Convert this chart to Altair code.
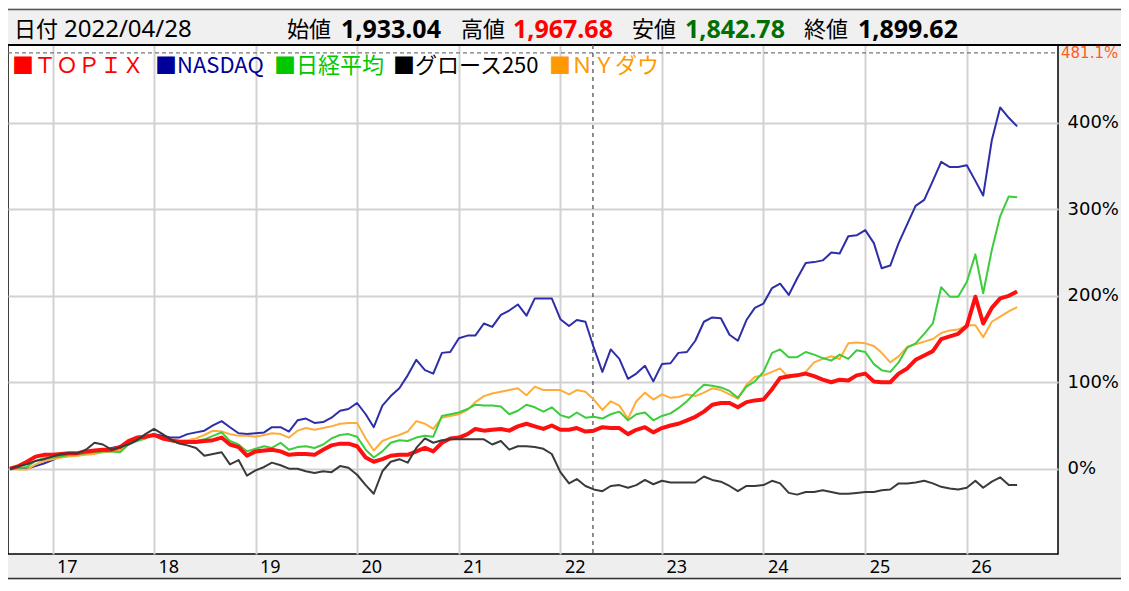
import altair as alt
import pandas as pd

# ---------------- data (percent change, monthly) ----------------
months = pd.date_range("2016-08-01", periods=120, freq="MS").strftime("%Y-%m-%d").tolist()

topix = [0, 3, 8, 14, 16, 16, 17, 18, 18, 20, 21, 22, 22, 25, 32, 36, 37, 39, 35, 33,
         31, 31, 31, 32, 33, 36, 28, 25, 15, 20, 21, 22, 20, 16, 17, 17, 16, 22, 27, 29,
         29, 26, 13, 8, 11, 15, 16, 16, 20, 24, 20, 30, 35, 36, 40, 46, 44, 45, 46, 44,
         49, 52, 49, 46, 50, 45, 45, 47, 43, 44, 48, 47, 47, 40, 45, 48, 42, 47, 50, 52,
         56, 60, 66, 74, 76, 76, 71, 77, 79, 80, 92, 105, 107, 108, 110, 107, 103, 100, 103, 102,
         108, 110, 101, 100, 100, 110, 116, 126, 131, 136, 150, 153, 156, 165, 199, 168, 186, 197, 200, 205]

nasdaq = [0, 0, 0, 3, 6, 10, 15, 17, 17, 20, 21, 21, 24, 26, 30, 33, 36, 40, 38, 36,
          36, 40, 42, 44, 50, 55, 48, 41, 40, 41, 42, 48, 48, 43, 56, 58, 53, 54, 59, 67,
          69, 76, 63, 48, 73, 84, 93, 108, 126, 114, 110, 134, 135, 151, 154, 154, 168, 164, 178, 183,
          190, 177, 197, 197, 197, 173, 165, 172, 170, 140, 112, 138, 127, 104, 110, 119, 101, 121, 122, 134,
          135, 148, 170, 175, 174, 155, 148, 172, 186, 191, 209, 214, 201, 220, 238, 239, 241, 250, 249, 269,
          270, 276, 261, 232, 235, 261, 283, 304, 311, 333, 355, 349, 349, 351, 333, 316, 380, 418, 406, 396]

nikkei = [-1, 1, 2, 9, 12, 13, 14, 16, 17, 18, 19, 20, 20, 19, 28, 32, 35, 40, 35, 32,
          30, 31, 32, 34, 38, 42, 32, 28, 20, 23, 26, 24, 30, 22, 25, 26, 24, 28, 35, 39,
          40, 37, 22, 13, 20, 30, 33, 32, 36, 38, 37, 61, 63, 65, 69, 74, 73, 73, 72, 63,
          67, 74, 71, 66, 71, 62, 59, 65, 59, 60, 58, 63, 66, 56, 63, 65, 56, 61, 64, 70,
          78, 88, 97, 96, 94, 90, 82, 95, 101, 112, 134, 138, 129, 129, 135, 132, 128, 125, 132, 127,
          137, 135, 121, 114, 112, 123, 140, 145, 156, 168, 210, 199, 199, 216, 248, 203, 253, 292, 315, 314]

growth250 = [0, 3, 5, 9, 11, 14, 17, 18, 18, 22, 30, 28, 22, 25, 28, 33, 40, 46, 40, 34,
             29, 27, 24, 15, 17, 19, 5, 10, -8, -2, 2, 7, 4, 0, 0, -3, -5, -3, -4, 3,
             1, -7, -19, -29, -3, 8, 11, 7, 24, 35, 30, 33, 34, 34, 34, 34, 34, 28, 32, 22,
             26, 26, 25, 23, 17, -4, -17, -12, -20, -24, -26, -20, -19, -22, -19, -13, -18, -14, -16, -16,
             -16, -16, -9, -13, -15, -20, -26, -20, -20, -19, -14, -17, -28, -30, -27, -27, -25, -27, -29, -29,
             -28, -27, -27, -25, -24, -17, -17, -16, -14, -17, -21, -23, -24, -22, -14, -22, -15, -10, -19, -19]

nydow = [0, -1, -1, 5, 9, 11, 13, 14, 15, 16, 17, 19, 20, 21, 29, 33, 36, 39, 34, 34,
         33, 33, 35, 39, 44, 43, 40, 38, 38, 37, 39, 41, 40, 36, 44, 47, 45, 47, 49, 52,
         53, 53, 35, 21, 32, 36, 39, 43, 55, 52, 46, 59, 61, 63, 68, 77, 84, 87, 89, 91,
         93, 85, 95, 91, 91, 91, 86, 91, 89, 80, 68, 78, 73, 58, 78, 88, 80, 86, 82, 83,
         86, 84, 88, 93, 91, 86, 81, 97, 106, 108, 112, 116, 105, 109, 112, 123, 127, 130, 127, 145,
         146, 145, 142, 134, 123, 130, 141, 144, 147, 150, 157, 160, 161, 166, 166, 152, 170, 176, 182, 187]

y_ticks = [0, 100, 200, 300, 400]
cursor_date = "2022-04-28"
cursor_value = 481.1
header_labels = ["始値", "高値", "安値", "終値"]
header_values = ["1,933.04", "1,967.68", "1,842.78", "1,899.62"]
legend_names = ["ＴＯＰＩＸ", "NASDAQ", "日経平均", "グロース250", "ＮＹダウ"]

# ---------------- layout / style ----------------
W, H = 1050, 509
RIGHT, TOP, BOTTOM = 63, 37, 26
FULLW = W + RIGHT
CJK = "Noto Sans CJK JP"
LAT = "Noto Sans"
NARROW = "Liberation Sans Narrow, Noto Sans, sans-serif"
GRID = "#d2d2d2"

one = alt.Data(values=[{}])

x_scale = alt.Scale(domain=["2016-07-25", "2026-11-25"])
y_scale = alt.Scale(domain=[-98.7, 490.2], nice=False, zero=False)


def series(values, color, width):
    df = pd.DataFrame({"date": months, "pct": values})
    return alt.Chart(df).mark_line(color=color, strokeWidth=width, strokeJoin="round").encode(
        x=alt.X("date:T", scale=x_scale, title=None),
        y=alt.Y("pct:Q", scale=y_scale, title=None),
    )


def label(text, px, py, size, color="black", font=CJK, weight="normal"):
    return alt.Chart(one).mark_text(
        text=text, align="left", baseline="middle", fontSize=size,
        font=font, fontWeight=weight, color=color,
    ).encode(x=alt.value(px), y=alt.value(py))


axis_x = alt.Axis(format="%y", tickCount={"interval": "year", "step": 1}, grid=True,
                  gridColor=GRID, gridWidth=2, domain=False, ticks=False, tickSize=0,
                  labelAlign="left", labelOffset=4, labelBaseline="middle", labelPadding=13,
                  labelFont=NARROW, labelFontSize=18, labelColor="black", labelFlush=False,
                  labelOverlap=False, labelBound=False)
axis_y = alt.Axis(orient="right", values=y_ticks, labelExpr="datum.value + '%'", grid=True,
                  gridColor=GRID, gridWidth=2, domain=False, ticks=False, tickSize=0,
                  labelPadding=9, labelFont="DejaVu Sans", labelFontSize=18,
                  labelColor="black", labelBaseline="middle")

base_axes = alt.Chart(pd.DataFrame({"date": months, "pct": topix})).mark_line(opacity=0).encode(
    x=alt.X("date:T", scale=x_scale, axis=axis_x, title=None),
    y=alt.Y("pct:Q", scale=y_scale, axis=axis_y, title=None),
)

header_bg = alt.Chart(one).mark_rect(color="#f0f0f0").encode(
    x=alt.value(0), x2=alt.value(FULLW), y=alt.value(-TOP), y2=alt.value(0))
header_top = alt.Chart(one).mark_rule(color="#555", strokeWidth=1.5).encode(
    x=alt.value(0), x2=alt.value(FULLW), y=alt.value(-TOP + 1.5))
header_bottom = alt.Chart(one).mark_rule(color="black", strokeWidth=2).encode(
    x=alt.value(0), x2=alt.value(FULLW), y=alt.value(0))
band_bottom = alt.Chart(one).mark_rule(color="#333", strokeWidth=1.5).encode(
    x=alt.value(0), x2=alt.value(FULLW), y=alt.value(H + BOTTOM - 1.5))

cursor_v = alt.Chart(pd.DataFrame({"date": [cursor_date]})).mark_rule(
    color="#555", strokeWidth=1.3, strokeDash=[4, 4]).encode(
    x=alt.X("date:T", scale=x_scale), y=alt.value(0), y2=alt.value(H))
cursor_h = alt.Chart(pd.DataFrame({"pct": [cursor_value]})).mark_rule(
    color="#777", strokeWidth=1.3, strokeDash=[4, 3]).encode(
    y=alt.Y("pct:Q", scale=y_scale), x=alt.value(0), x2=alt.value(W))
cursor_lbl = alt.Chart(pd.DataFrame({"pct": [cursor_value]})).mark_text(
    align="left", baseline="middle", fontSize=15, font="DejaVu Sans", color="#ff5a1e").encode(
    y=alt.Y("pct:Q", scale=y_scale), x=alt.value(W + 3),
    text=alt.value("481.1%"))

hy = -TOP / 2 + 3
header = [
    label("日付", 6, hy, 22),
    label("2022/04/28", 56, hy, 24, font=LAT),
]
lab_x = [279, 453, 624, 796]
val_x = [333, 505, 677, 850]
val_col = ["black", "#ff0000", "#007000", "black"]
for t, px in zip(header_labels, lab_x):
    header.append(label(t, px, hy, 22))
for t, px, c in zip(header_values, val_x, val_col):
    header.append(label(t, px, hy, 25, color=c, font=LAT, weight="bold"))

leg_x = [4, 147, 266, 385, 541]
leg_col = ["#ff0000", "#000099", "#00c800", "black", "#ff9900"]
legend = [label("■" + n, px, 21, 22, color=c) for n, px, c in zip(legend_names, leg_x, leg_col)]

lines = [
    series(nasdaq, "#2e2ea8", 2),
    series(nydow, "#ffac3a", 2),
    series(nikkei, "#3ccc3c", 2),
    series(topix, "#ff1010", 4),
    series(growth250, "#3a3a3a", 2),
]

chart = alt.layer(
    base_axes, header_bg, header_top, header_bottom, band_bottom,
    cursor_h, cursor_v, *lines, cursor_lbl, *header, *legend,
).properties(
    width=W, height=H,
    autosize=alt.AutoSizeParams(type="none"),
    padding={"left": 0, "top": TOP, "right": RIGHT, "bottom": BOTTOM},
    background="#eeeeee",
).configure_view(fill="white", stroke="black", strokeWidth=1.5)

chart.save("out.html", embed_options={"renderer": "svg", "actions": False})
